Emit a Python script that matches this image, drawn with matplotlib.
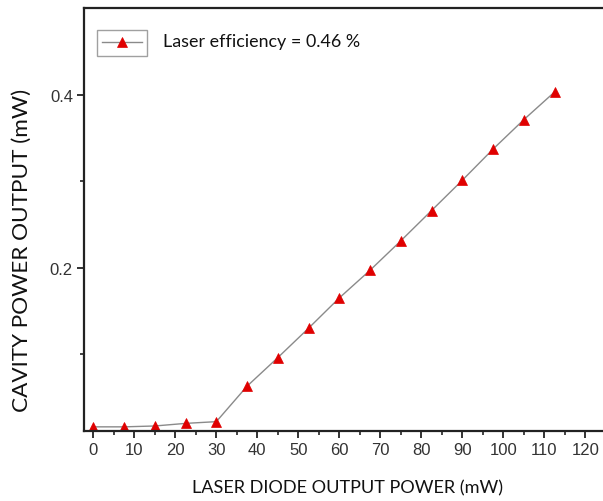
import matplotlib
matplotlib.use("Agg")
import matplotlib.pyplot as plt
from matplotlib.ticker import MultipleLocator, FixedLocator

# Data
diode_power = [0, 7.5, 15, 22.5, 30, 37.5, 45, 52.5, 60, 67.5, 75, 82.5, 90, 97.5, 105, 112.5]
cavity_power = [0.016, 0.016, 0.017, 0.020, 0.022, 0.063, 0.096, 0.130, 0.165, 0.197,
                0.231, 0.266, 0.301, 0.337, 0.371, 0.403]
x_ticks = [0, 10, 20, 30, 40, 50, 60, 70, 80, 90, 100, 110, 120]
y_ticks = [0.2, 0.4]
legend_text = "Laser efficiency = 0.46 %"
x_label = "LASER DIODE OUTPUT POWER (mW)"
y_label = "CAVITY POWER OUTPUT (mW)"

fig = plt.figure(figsize=(6.03, 5.02), dpi=100)
ax = fig.add_axes([84/603, 70/502, 1 - 84/603, (432 - 9)/502])

line, = ax.plot(diode_power, cavity_power, color="#8a8a8a", linewidth=1.0,
                marker="^", markersize=7.5, markerfacecolor="#e00000",
                markeredgecolor="#e00000", markeredgewidth=0.5)

ax.set_xlim(-2.27, 124.3)
ax.set_ylim(0.0112, 0.5)

ax.xaxis.set_major_locator(FixedLocator(x_ticks))
ax.xaxis.set_minor_locator(MultipleLocator(5))
ax.yaxis.set_major_locator(FixedLocator(y_ticks))
ax.yaxis.set_minor_locator(FixedLocator([0.1, 0.3]))
ax.set_xticklabels([str(t) for t in x_ticks], family="Liberation Sans")
ax.set_yticklabels([f"{t:.1f}" for t in y_ticks], family="Liberation Sans")

ax.tick_params(which="major", direction="out", length=5, width=1.3, labelsize=12,
               colors="#222222", labelcolor="#333333", pad=3)
ax.tick_params(which="minor", direction="out", length=3, width=1.2, colors="#222222")

for side in ["left", "bottom", "top"]:
    ax.spines[side].set_linewidth(1.6)
    ax.spines[side].set_color("#222222")
ax.spines["right"].set_visible(False)

ax.set_xlabel(x_label, fontsize=13.1, family="Lato", color="#111111")
ax.set_ylabel(y_label, fontsize=16.2, family="Lato", color="#111111")
ax.xaxis.set_label_coords((348 - 84) / 519, -(488 - 432) / 423)
ax.yaxis.set_label_coords(-(84 - 22) / 519, (432 - 250) / 423)
ax.xaxis.label.set_va("center")
ax.yaxis.label.set_va("center")

leg = ax.legend([line], [""], loc="upper left", bbox_to_anchor=(0.025, 0.948),
                borderaxespad=0, fontsize=11, handlelength=2.6, handletextpad=0,
                borderpad=0.35, frameon=True, fancybox=False, edgecolor="#888888",
                markerscale=0.9)
leg.get_frame().set_linewidth(1.0)

ax.text(0.152, 0.922, legend_text, transform=ax.transAxes, fontsize=12.9,
        family="Lato", va="center", ha="left", color="#111111")

fig.savefig("out.png", dpi=100)
